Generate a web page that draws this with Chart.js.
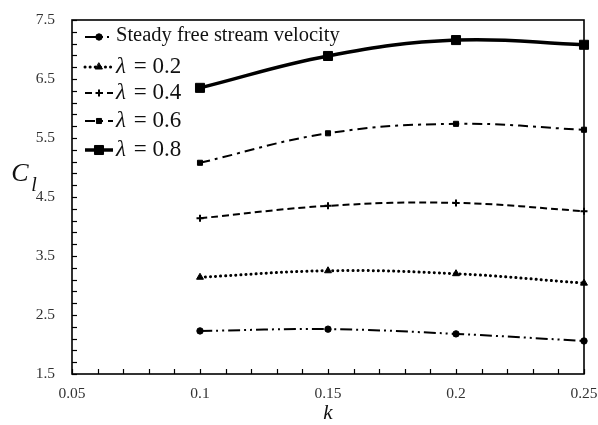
<!DOCTYPE html>
<html lang="en">
<head>
  <meta charset="UTF-8">
  <title>Lift coefficient vs reduced frequency</title>
  <script src="https://cdn.jsdelivr.net/npm/chart.js"></script>
  <style>
    body {
      margin: 0;
      background: #ffffff;
    }
    #wrap {
      width: 598px;
      height: 425px;
    }
  </style>
</head>
<body>
  <div id="wrap"><canvas id="clChart" width="598" height="425"></canvas></div>

  <script>
    // reduced frequency k and lift coefficient for each case
    const kValues = [0.1, 0.15, 0.2, 0.25];
    const steady = [2.23, 2.26, 2.18, 2.06];
    const lambda02 = [3.14, 3.25, 3.20, 3.04];
    const lambda04 = [4.14, 4.35, 4.40, 4.26];
    const lambda06 = [5.08, 5.58, 5.74, 5.64];
    const lambda08 = [6.35, 6.89, 7.16, 7.08];

    const seriesNames = ['Steady free stream velocity', '0.2', '0.4', '0.6', '0.8'];
    const xTickValues = [0.05, 0.1, 0.15, 0.2, 0.25];
    const yTickValues = [1.5, 2.5, 3.5, 4.5, 5.5, 6.5, 7.5];

    const serif = '"Liberation Serif", "Times New Roman", serif';

    const pts = vals => vals.map((v, i) => ({ x: kValues[i], y: v }));

    // line styles per series
    const styles = [
      { dash: [12, 4, 2, 4, 2, 4], width: 2, cap: 'butt', marker: 'circle', r: 3.2 },
      { dash: [0.1, 5], width: 3, cap: 'round', marker: 'triangle', r: 4 },
      { dash: [7, 4], width: 2, cap: 'butt', marker: 'cross', r: 3.5 },
      { dash: [10, 5, 3, 5], width: 2, cap: 'butt', marker: 'rect', r: 3.6 },
      { dash: [], width: 3.5, cap: 'butt', marker: 'rect', r: 6.4 }
    ];
    const seriesData = [steady, lambda02, lambda04, lambda06, lambda08];

    const datasets = seriesData.map((vals, i) => ({
      label: seriesNames[i],
      data: pts(vals),
      borderColor: '#000',
      backgroundColor: '#000',
      borderWidth: styles[i].width,
      borderDash: styles[i].dash,
      borderCapStyle: styles[i].cap,
      pointStyle: styles[i].marker,
      pointRadius: styles[i].r,
      pointBorderWidth: styles[i].marker === 'cross' ? 2 : 1,
      pointBackgroundColor: '#000',
      pointBorderColor: '#000',
      tension: 0.4,
      clip: false
    }));

    // frame, inward minor ticks and axis titles
    const framePlugin = {
      id: 'frame',
      beforeDatasetsDraw(chart) {
        const { ctx, chartArea: a, scales: { x, y } } = chart;
        ctx.save();
        ctx.strokeStyle = '#000';
        ctx.lineWidth = 1.2;
        ctx.setLineDash([]);
        for (let i = 0; i <= 20; i++) {
          const px = Math.round(x.getPixelForValue(0.05 + i * 0.01)) + 0.5;
          ctx.beginPath();
          ctx.moveTo(px, a.bottom);
          ctx.lineTo(px, a.bottom - 5);
          ctx.stroke();
        }
        for (let i = 0; i <= 30; i++) {
          const py = Math.round(y.getPixelForValue(1.5 + i * 0.2)) + 0.5;
          ctx.beginPath();
          ctx.moveTo(a.left, py);
          ctx.lineTo(a.left + 5, py);
          ctx.stroke();
        }
        ctx.lineWidth = 1.6;
        ctx.strokeRect(a.left, a.top, a.right - a.left, a.bottom - a.top);

        ctx.fillStyle = '#111';
        ctx.font = 'italic 21px ' + serif;
        ctx.textAlign = 'center';
        ctx.textBaseline = 'middle';
        ctx.fillText('k', (a.left + a.right) / 2, 413);
        ctx.font = 'italic 26px ' + serif;
        ctx.fillText('C', 20, 174);
        ctx.font = 'italic 20px ' + serif;
        ctx.fillText('l', 34, 186);
        ctx.restore();
      }
    };

    // legend with line samples in the upper left corner
    const legendPlugin = {
      id: 'sampleLegend',
      afterDraw(chart) {
        const { ctx } = chart;
        const rows = [37, 67, 93, 121, 150];
        ctx.save();
        datasets.forEach((ds, i) => {
          const yy = rows[i];
          ctx.strokeStyle = '#000';
          ctx.lineWidth = ds.borderWidth;
          ctx.lineCap = ds.borderCapStyle;
          ctx.setLineDash(ds.borderDash);
          ctx.beginPath();
          ctx.moveTo(85, yy);
          ctx.lineTo(113, yy);
          ctx.stroke();
          ctx.setLineDash([]);
          ctx.fillStyle = '#000';
          ctx.lineWidth = ds.pointBorderWidth;
          Chart.helpers.drawPoint(ctx, {
            pointStyle: ds.pointStyle,
            radius: ds.pointRadius,
            rotation: 0,
            borderWidth: ds.pointBorderWidth
          }, 99, yy);
          ctx.textAlign = 'left';
          ctx.textBaseline = 'middle';
          ctx.fillStyle = '#111';
          if (i === 0) {
            ctx.font = '20.5px ' + serif;
            ctx.fillText(ds.label, 116, yy - 1);
          } else {
            ctx.font = 'italic 23px ' + serif;
            ctx.fillText('\u03bb', 116, yy);
            ctx.font = '23px ' + serif;
            ctx.fillText(' = ' + ds.label, 128, yy);
          }
        });
        ctx.restore();
      }
    };

    // fixed axis sizes so the plot area sits where it should
    const fixX = s => { s.height = 51; s.paddingLeft = 0; s.paddingRight = 0; };
    const fixY = s => { s.width = 72; s.paddingTop = 0; s.paddingBottom = 0; };

    new Chart(document.getElementById('clChart'), {
      type: 'line',
      data: { datasets },
      plugins: [framePlugin, legendPlugin],
      options: {
        responsive: false,
        animation: false,
        layout: { padding: { top: 20, right: 14, left: 0, bottom: 0 } },
        plugins: {
          legend: { display: false },
          tooltip: { enabled: false }
        },
        scales: {
          x: {
            type: 'linear',
            min: 0.05,
            max: 0.25,
            afterBuildTicks: s => { s.ticks = xTickValues.map(v => ({ value: v })); },
            afterFit: fixX,
            grid: { display: false, drawTicks: false },
            border: { display: false },
            ticks: {
              padding: 11,
              color: '#333',
              font: { family: serif, size: 15.5 },
              maxRotation: 0,
              autoSkip: false,
              callback: v => String(+v.toFixed(2))
            }
          },
          y: {
            type: 'linear',
            min: 1.5,
            max: 7.5,
            afterBuildTicks: s => { s.ticks = yTickValues.map(v => ({ value: v })); },
            afterFit: fixY,
            grid: { display: false, drawTicks: false },
            border: { display: false },
            ticks: {
              padding: 17,
              color: '#333',
              font: { family: serif, size: 15.5 },
              autoSkip: false,
              callback: v => v.toFixed(1)
            }
          }
        }
      }
    });
  </script>
</body>
</html>
